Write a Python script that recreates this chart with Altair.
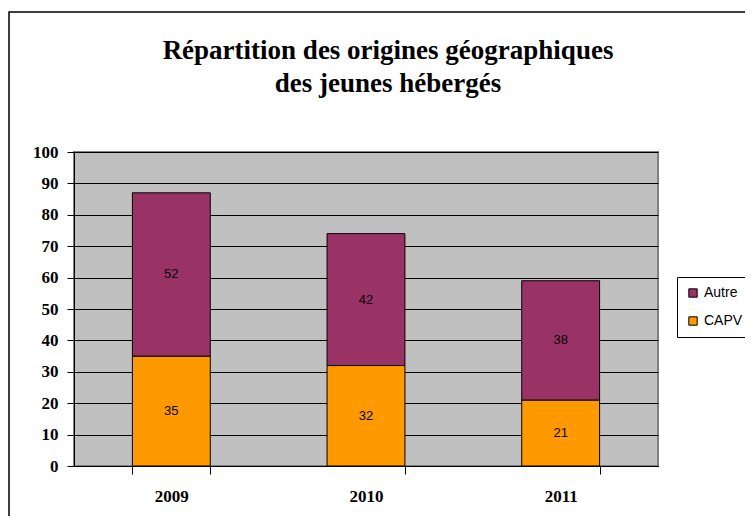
import altair as alt
import pandas as pd

years = ["2009", "2010", "2011"]
capv = [35, 32, 21]
autre = [52, 42, 38]
series = ["Autre", "CAPV"]
colors = ["#993366", "#FF9900"]
y_ticks = list(range(0, 101, 10))
title_lines = ["Répartition des origines géographiques", "des jeunes hébergés"]

rows = []
for i, y in enumerate(years):
    rows.append({"year": y, "serie": "CAPV", "value": capv[i], "ord": 0})
    rows.append({"year": y, "serie": "Autre", "value": autre[i], "ord": 1})
df = pd.DataFrame(rows)

W, H = 584, 314

xscale = alt.Scale(paddingInner=0.6, paddingOuter=0.3)
yscale = alt.Scale(domain=[0, 100], nice=False)

xaxis = alt.Axis(title=None, labelAngle=0, tickBand="extent", tickSize=8,
                 labelPadding=14, labelFont="Liberation Serif",
                 labelFontWeight="bold", labelFontSize=17, labelColor="black",
                 domainColor="black", tickColor="black", grid=False)
yaxis = alt.Axis(title=None, values=y_ticks, tickCount=len(y_ticks) + 5,
                 labelOverlap=False, tickSize=7, labelPadding=9,
                 labelFont="Liberation Serif", labelFontWeight="bold",
                 labelFontSize=17, labelColor="black", domainColor="black",
                 tickColor="black", gridColor="black", gridOpacity=1, gridWidth=1)

base = alt.Chart(df)

bars = base.mark_bar(stroke="black", strokeWidth=1).encode(
    x=alt.X("year:N", scale=xscale, sort=years, axis=xaxis),
    y=alt.Y("value:Q", stack="zero", scale=yscale, axis=yaxis),
    color=alt.Color("serie:N",
                    scale=alt.Scale(domain=series, range=colors),
                    legend=alt.Legend(title=None, orient="none", legendX=603, legendY=125,
                                      symbolType="square", symbolSize=70,
                                      symbolStrokeColor="black", symbolStrokeWidth=1,
                                      labelFont="Liberation Sans", labelFontSize=14,
                                      labelColor="black", strokeColor="black",
                                      fillColor="white", padding=9, rowPadding=14,
                                      labelOffset=4)),
    order=alt.Order("ord:Q", sort="ascending"),
)

labels = base.transform_stack(
    stack="value", groupby=["year"], sort=[alt.SortField("ord", order="ascending")],
    as_=["y0", "y1"]
).transform_calculate(
    mid="(datum.y0 + datum.y1) / 2"
).mark_text(font="Liberation Sans", fontSize=13, color="black", baseline="middle").encode(
    x=alt.X("year:N", scale=xscale, sort=years, axis=xaxis),
    y=alt.Y("mid:Q", scale=yscale, axis=yaxis),
    text=alt.Text("value:Q"),
)

frame = alt.Chart(pd.DataFrame({"a": [0]})).mark_rect(
    fillOpacity=0, stroke="black", strokeWidth=1.5
).encode(
    x=alt.value(-65), x2=alt.value(720), y=alt.value(-140), y2=alt.value(420)
)

title = alt.Chart(pd.DataFrame({"a": [0]})).mark_text(
    text=title_lines, font="Liberation Serif", fontSize=27, fontWeight="bold",
    color="black", align="center", baseline="alphabetic", lineHeight=33
).encode(
    x=alt.value(314), y=alt.value(-93)
)

chart = alt.layer(bars, labels, frame, title).properties(
    width=W, height=H,
    autosize=alt.AutoSizeParams(type="none"),
    padding={"left": 66, "top": 144, "right": 87, "bottom": 50},
).configure_view(
    fill="#C0C0C0", stroke="#808080", strokeWidth=2
)

chart.save("out.html", embed_options={"renderer": "svg", "actions": False})
